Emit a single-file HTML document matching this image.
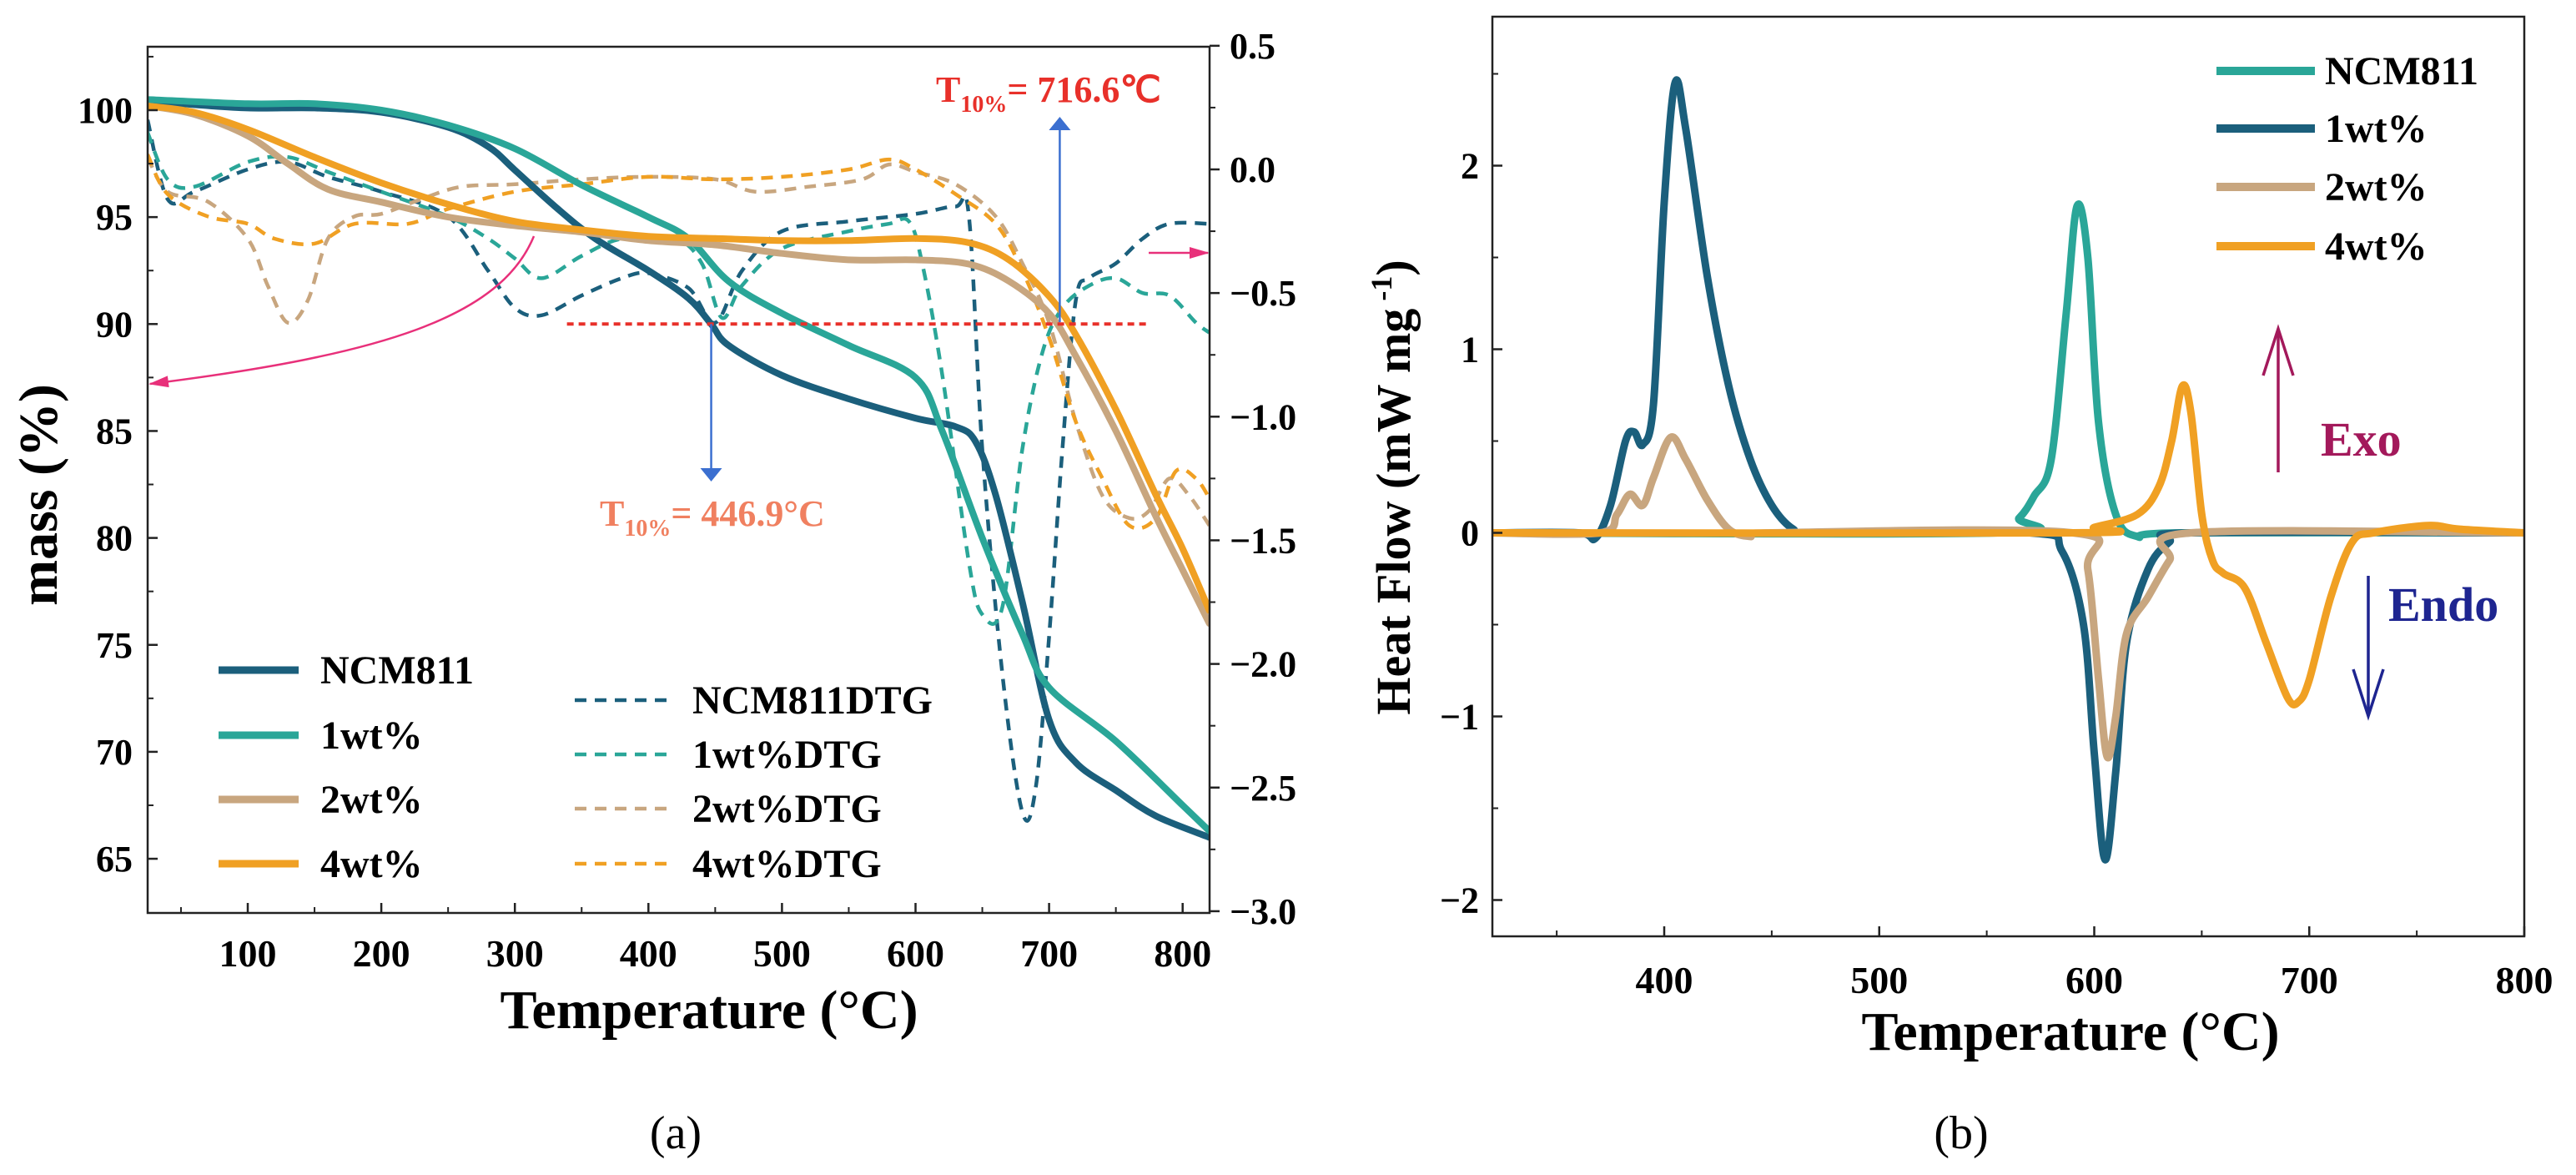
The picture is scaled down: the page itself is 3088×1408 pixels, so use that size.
<!DOCTYPE html>
<html><head><meta charset="utf-8"><style>
html,body{margin:0;padding:0;background:#fff;overflow:hidden;}
svg{display:block;font-family:"Liberation Serif",serif;font-weight:bold;}
</style></head><body>
<svg id="c" width="3088" height="1408" viewBox="0 0 3088 1408"></svg>
<script>
// ---- Panel (a) data ----
const tgaT_ncm=[25,50,100,150,200,250,280,300,330,360,400,430,447,460,500,550,600,630,645,660,680,700,720,750,780,820];
const tgaM_ncm=[100.4,100.3,100.1,100.1,99.9,99.2,98.3,97.2,95.5,94,92.5,91.2,90,89,87.6,86.5,85.6,85.2,84.5,82,77,71.5,69.5,68.2,67,66];
const tgaT_1=[25,100,150,200,250,300,350,400,430,460,500,550,600,620,650,680,700,750,800,820];
const tgaM_1=[100.5,100.3,100.3,100,99.3,98.2,96.5,95,94,92,90.5,89,87.5,85,80,75.5,73,70.5,67.5,66.3];
const tgaT_2=[25,60,100,130,160,200,250,300,350,400,450,500,550,600,640,670,700,720,750,780,800,820];
const tgaM_2=[100.2,99.8,98.8,97.5,96.3,95.7,95,94.6,94.3,93.9,93.7,93.3,93,93,92.8,92,90.5,88.5,85,81,78.5,76];
const tgaT_4=[25,60,100,150,200,250,300,350,400,450,500,550,600,640,670,700,720,750,780,800,820];
const tgaM_4=[100.2,99.9,99.1,97.8,96.6,95.6,94.8,94.4,94.1,94,93.9,93.9,94,93.8,93,91.3,89.5,86,82,79.5,76.6];
const dtgT_ncm=[25,40,60,100,130,160,200,250,280,300,320,350,380,400,430,450,470,500,550,600,630,640,650,665,680,690,700,710,720,730,750,770,790,820];
const dtgV_ncm=[0.2,-0.12,-0.09,0,0.03,-0.03,-0.09,-0.19,-0.41,-0.56,-0.59,-0.51,-0.44,-0.42,-0.48,-0.62,-0.41,-0.25,-0.21,-0.18,-0.15,-0.19,-1.13,-2.04,-2.6,-2.5,-1.89,-1.13,-0.53,-0.44,-0.38,-0.28,-0.22,-0.22];
const dtgT_1=[25,40,60,100,130,160,200,250,280,300,320,350,380,420,440,455,470,500,550,580,595,605,620,640,650,665,680,695,710,730,750,770,790,810,820];
const dtgV_1=[0.15,-0.04,-0.07,0.03,0.05,-0.01,-0.09,-0.19,-0.28,-0.36,-0.44,-0.35,-0.28,-0.28,-0.38,-0.6,-0.47,-0.32,-0.25,-0.22,-0.21,-0.38,-0.83,-1.59,-1.8,-1.77,-1.13,-0.74,-0.56,-0.47,-0.44,-0.5,-0.51,-0.62,-0.66];
const dtgT_2=[25,40,70,100,115,130,145,160,180,200,230,260,300,350,400,450,480,520,560,580,600,630,660,680,700,720,740,760,775,790,805,820];
const dtgV_2=[0.05,-0.09,-0.13,-0.28,-0.47,-0.62,-0.53,-0.28,-0.19,-0.18,-0.12,-0.07,-0.06,-0.04,-0.03,-0.04,-0.09,-0.07,-0.04,0.02,-0.01,-0.06,-0.19,-0.38,-0.62,-1.02,-1.32,-1.41,-1.38,-1.25,-1.32,-1.44];
const dtgT_4=[25,40,70,100,120,150,180,220,250,300,350,400,450,500,550,580,600,630,660,680,700,720,740,760,780,795,810,820];
const dtgV_4=[0.06,-0.1,-0.19,-0.22,-0.28,-0.3,-0.22,-0.22,-0.16,-0.09,-0.06,-0.03,-0.04,-0.03,0,0.04,0,-0.1,-0.22,-0.41,-0.68,-1.02,-1.25,-1.44,-1.41,-1.22,-1.25,-1.33];
const aXTicks=[100,200,300,400,500,600,700,800];
const aYTicks=[65,70,75,80,85,90,95,100];
const aY2Ticks=[0.5,0,-0.5,-1,-1.5,-2,-2.5,-3];
const aY2Labels=["0.5","0.0","\u22120.5","\u22121.0","\u22121.5","\u22122.0","\u22122.5","\u22123.0"];
// ---- Panel (b) data ----
const dscT_ncm=[320,555,565,572,580,587,592,597,602,610,620,640,800];
const dscV_ncm=[0,0,0.08,0.2,0.4,1.2,1.78,1.5,0.6,0.1,-0.02,0,0];
const dscT_1=[320,360,368,375,382,386,390,395,400,405,410,420,430,440,450,460,470,570,585,595,600,605,610,615,625,635,645,800];
const dscV_1=[0,0,-0.03,0.15,0.5,0.55,0.48,0.7,1.8,2.45,2.2,1.4,0.8,0.4,0.15,0.02,0,0,-0.1,-0.5,-1.2,-1.78,-1.3,-0.6,-0.2,-0.05,0,0];
const dscT_2=[320,370,378,384,390,395,403,410,420,430,440,450,590,597,602,606,610,615,625,635,645,800];
const dscV_2=[0,0,0.1,0.21,0.15,0.3,0.52,0.4,0.18,0.02,-0.02,0,0,-0.2,-0.8,-1.22,-1.0,-0.55,-0.35,-0.15,0,0];
const dscT_4=[320,590,600,620,630,636,641,645,650,655,660,670,680,690,695,700,710,720,730,755,770,800];
const dscV_4=[0,0,0.03,0.1,0.25,0.5,0.8,0.65,0.1,-0.15,-0.22,-0.3,-0.6,-0.9,-0.92,-0.8,-0.35,-0.05,0,0.04,0.02,0];
const bXTicks=[400,500,600,700,800];
const bYTicks=[-2,-1,0,1,2];
const bYLabels=["\u22122","\u22121","0","1","2"];

const C={dark:"#1b5f7c",teal:"#2aa698",tan:"#c8a67f",orange:"#f0a023"};
const svg=document.getElementById('c');
const NS="http://www.w3.org/2000/svg";
function mk(tag,attrs,parent){const e=document.createElementNS(NS,tag);for(const k in attrs)e.setAttribute(k,attrs[k]);(parent||svg).appendChild(e);return e;}
function txt(s,x,y,size,fill,anchor,parent){const t=mk('text',{x:x,y:y,'font-size':size,fill:fill||'#000','text-anchor':anchor||'start'},parent);t.textContent=s;return t;}
function smooth(pts){let d="M"+pts[0][0].toFixed(1)+","+pts[0][1].toFixed(1);for(let i=0;i<pts.length-1;i++){const p0=pts[i-1]||pts[i],p1=pts[i],p2=pts[i+1],p3=pts[i+2]||p2;const c1=[p1[0]+(p2[0]-p0[0])/6,p1[1]+(p2[1]-p0[1])/6],c2=[p2[0]-(p3[0]-p1[0])/6,p2[1]-(p3[1]-p1[1])/6];d+=" C"+c1[0].toFixed(1)+","+c1[1].toFixed(1)+" "+c2[0].toFixed(1)+","+c2[1].toFixed(1)+" "+p2[0].toFixed(1)+","+p2[1].toFixed(1);}return d;}

mk('defs',{},svg).innerHTML='<marker id="ap" markerWidth="24" markerHeight="14" refX="22" refY="7" orient="auto" markerUnits="userSpaceOnUse"><path d="M0,0 L24,7 L0,14 Z" fill="#e8307a"/></marker><marker id="ab2" markerWidth="16" markerHeight="26" refX="14" refY="13" orient="auto" markerUnits="userSpaceOnUse"><path d="M0,0 L16,13 L0,26 Z" fill="#3b6fd0"/></marker>';

// ===== Panel a =====
const aL=177,aR=1450,aT=56,aB=1094;
const ax=t=>297+(t-100)*1.601;
const ay=v=>132+(100-v)*25.63;
const ay2=v=>203-v*296.3;
const gA=mk('g',{});


const clipA=mk('clipPath',{id:'ca'},gA);mk('rect',{x:aL,y:aT,width:aR-aL,height:aB-aT},clipA);
const plotA=mk('g',{'clip-path':'url(#ca)'},gA);
function series(g,T,V,fx,fy,color,w,dash,name){const p=mk('path',{d:smooth(T.map((t,i)=>[fx(t),fy(V[i])])),fill:'none',stroke:color,'stroke-width':w,'stroke-linejoin':'round','stroke-linecap':dash?'butt':'round'},g);if(dash)p.setAttribute('stroke-dasharray',dash);


return p;}
series(plotA,dtgT_ncm,dtgV_ncm,ax,ay2,C.dark,4.5,"14 10","ncm811-dtg-line");
series(plotA,dtgT_1,dtgV_1,ax,ay2,C.teal,4.5,"14 10","1wt-dtg-line");
series(plotA,dtgT_2,dtgV_2,ax,ay2,C.tan,4.5,"14 10","2wt-dtg-line");
series(plotA,dtgT_4,dtgV_4,ax,ay2,C.orange,4.5,"14 10","4wt-dtg-line");
series(plotA,tgaT_ncm,tgaM_ncm,ax,ay,C.dark,8,null,"ncm811-tga-line");
series(plotA,tgaT_1,tgaM_1,ax,ay,C.teal,8,null,"1wt-tga-line");
series(plotA,tgaT_2,tgaM_2,ax,ay,C.tan,8,null,"2wt-tga-line");
series(plotA,tgaT_4,tgaM_4,ax,ay,C.orange,8,null,"4wt-tga-line");
const ref=mk('line',{x1:ax(339),x2:ax(776),y1:ay(90),y2:ay(90),stroke:'#e8302a','stroke-width':4,'stroke-dasharray':'8 6'},gA);


const a1=mk('line',{x1:ax(447),x2:ax(447),y1:ay(90),y2:575,stroke:'#3b6fd0','stroke-width':2.5,'marker-end':'url(#ab2)'},gA);


const a2=mk('line',{x1:ax(708),x2:ax(708),y1:386,y2:142,stroke:'#3b6fd0','stroke-width':2.5,'marker-end':'url(#ab2)'},gA);


const p1=mk('path',{d:"M640,283 C600,380 460,425 180,460",fill:'none',stroke:'#e8307a','stroke-width':2.5,'marker-end':'url(#ap)'},gA);


const p2=mk('line',{x1:1377,x2:1448,y1:303,y2:303,stroke:'#e8307a','stroke-width':2.5,'marker-end':'url(#ap)'},gA);


function t10(x,y,val,color,name){const t=mk('text',{x:x,y:y,'font-size':44,fill:color},gA);t.innerHTML='T<tspan font-size="28" dy="12">10%</tspan><tspan dy="-12">= '+val+'</tspan>';

}
t10(1122,122,'716.6\u2103','#e8302a','t10-716-label');
t10(719,630,'446.9\u00b0C','#f08060','t10-446-label');
mk('rect',{x:aL,y:aT,width:aR-aL,height:aB-aT,fill:'none',stroke:'#222','stroke-width':2.5},gA);
aXTicks.forEach(t=>{mk('line',{x1:ax(t),x2:ax(t),y1:aB,y2:aB-12,stroke:'#222','stroke-width':2.5},gA);mk('line',{x1:ax(t-50),x2:ax(t-50),y1:aB,y2:aB-7,stroke:'#222','stroke-width':2},gA);const l=txt(String(t),ax(t),1158,46,'#000','middle',gA);

});
aYTicks.forEach(v=>{mk('line',{x1:aL,x2:aL+12,y1:ay(v),y2:ay(v),stroke:'#222','stroke-width':2.5},gA);mk('line',{x1:aL,x2:aL+7,y1:ay(v+2.5),y2:ay(v+2.5),stroke:'#222','stroke-width':2},gA);const l=txt(String(v),aL-18,ay(v)+15,44,'#000','end',gA);

});
aY2Ticks.forEach((v,i)=>{mk('line',{x1:aR,x2:aR+12,y1:ay2(v),y2:ay2(v),stroke:'#222','stroke-width':2.5},gA);if(v>-3)mk('line',{x1:aR,x2:aR+7,y1:ay2(v-0.25),y2:ay2(v-0.25),stroke:'#222','stroke-width':2},gA);const l=txt(aY2Labels[i],aR+24,ay2(v)+15,44,'#000','start',gA);

});
const xa=txt('Temperature (\u00b0C)',850,1232,66,'#000','middle',gA);


const ya=txt('mass (%)',0,0,66,'#000','middle',gA);ya.setAttribute('transform','translate(68,593) rotate(-90)');


const legA=[["NCM811",C.dark,null,262,358,384,803],["1wt%",C.teal,null,262,358,384,881],["2wt%",C.tan,null,262,358,384,958],["4wt%",C.orange,null,262,358,384,1035],
["NCM811DTG",C.dark,"14 10",689,802,830,839],["1wt%DTG",C.teal,"14 10",689,802,830,904],["2wt%DTG",C.tan,"14 10",689,802,830,969],["4wt%DTG",C.orange,"14 10",689,802,830,1035]];
legA.forEach(e=>{const g=mk('g',{},gA);


const l=mk('line',{x1:e[3],x2:e[4],y1:e[6],y2:e[6],stroke:e[1],'stroke-width':e[2]?4.5:9},g);if(e[2])l.setAttribute('stroke-dasharray',e[2]);txt(e[0],e[5],e[6]+16,48,'#000','start',g);});
const la=txt('(a)',810,1376,56,'#000','middle',gA);la.setAttribute('font-weight','normal');



// ===== Panel b =====
const bL=1789,bR=3026,bT=20,bB=1122;
const bx=t=>1995+(t-400)*2.5775;
const by=v=>638.5-v*220;
const gB=mk('g',{});


const clipB=mk('clipPath',{id:'cb'},gB);mk('rect',{x:bL,y:bT,width:bR-bL,height:bB-bT},clipB);
const plotB=mk('g',{'clip-path':'url(#cb)'},gB);
series(plotB,dscT_ncm,dscV_ncm,bx,by,C.teal,9,null,"ncm811-dsc-line");
series(plotB,dscT_1,dscV_1,bx,by,C.dark,9,null,"1wt-dsc-line");
series(plotB,dscT_2,dscV_2,bx,by,C.tan,9,null,"2wt-dsc-line");
series(plotB,dscT_4,dscV_4,bx,by,C.orange,9,null,"4wt-dsc-line");
mk('rect',{x:bL,y:bT,width:bR-bL,height:bB-bT,fill:'none',stroke:'#222','stroke-width':2.5},gB);
bXTicks.forEach(t=>{mk('line',{x1:bx(t),x2:bx(t),y1:bB,y2:bB-12,stroke:'#222','stroke-width':2.5},gB);mk('line',{x1:bx(t-50),x2:bx(t-50),y1:bB,y2:bB-7,stroke:'#222','stroke-width':2},gB);const l=txt(String(t),bx(t),1190,46,'#000','middle',gB);

});
bYTicks.forEach((v,i)=>{mk('line',{x1:bL,x2:bL+12,y1:by(v),y2:by(v),stroke:'#222','stroke-width':2.5},gB);mk('line',{x1:bL,x2:bL+7,y1:by(v+0.5),y2:by(v+0.5),stroke:'#222','stroke-width':2},gB);const l=txt(bYLabels[i],bL-16,by(v)+15,44,'#000','end',gB);

});
const xb=txt('Temperature (\u00b0C)',2482,1258,66,'#000','middle',gB);


const yb=mk('text',{'font-size':58,fill:'#000','text-anchor':'middle',transform:'translate(1690,584) rotate(-90)'},gB);
yb.innerHTML='Heat Flow (mW mg<tspan font-size="36" dy="-22"> -1</tspan><tspan dy="22">)</tspan>';


const legB=[["NCM811",C.teal,85],["1wt%",C.dark,154],["2wt%",C.tan,224],["4wt%",C.orange,295]];
legB.forEach(e=>{const g=mk('g',{},gB);


mk('line',{x1:2657,x2:2775,y1:e[2],y2:e[2],stroke:e[1],'stroke-width':10},g);txt(e[0],2787,e[2]+16,48,'#000','start',g);});
const exo=mk('g',{},gB);


mk('line',{x1:2731,x2:2731,y1:566,y2:396,stroke:'#a3195b','stroke-width':3.5},exo);
mk('path',{d:'M2713,450 L2731,394 L2749,450',fill:'none',stroke:'#a3195b','stroke-width':3.5},exo);
txt('Exo',2782,546,58,'#a3195b','start',exo);
const endo=mk('g',{},gB);


mk('line',{x1:2839,x2:2839,y1:690,y2:856,stroke:'#1e2590','stroke-width':3.5},endo);
mk('path',{d:'M2821,802 L2839,858 L2857,802',fill:'none',stroke:'#1e2590','stroke-width':3.5},endo);
txt('Endo',2863,744,58,'#1e2590','start',endo);
const lb=txt('(b)',2351,1376,56,'#000','middle',gB);lb.setAttribute('font-weight','normal');


</script>
</body></html>
